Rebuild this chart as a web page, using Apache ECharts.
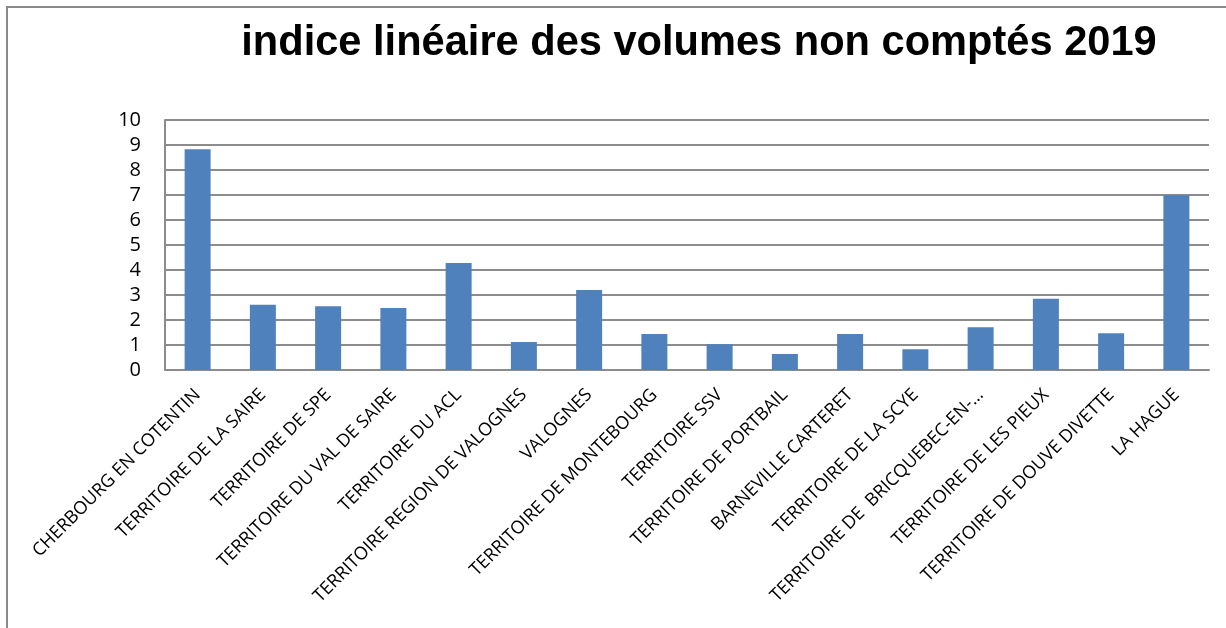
<!DOCTYPE html>
<html lang="fr">
<head>
  <meta charset="UTF-8" />
  <title>indice linéaire des volumes non comptés 2019</title>
  <script src="https://cdn.jsdelivr.net/npm/echarts@6/dist/echarts.min.js"></script>
  <style>
    html, body { margin: 0; padding: 0; background: #fff; }
    #wrap { position: relative; width: 1226px; height: 628px; overflow: hidden; }
    #frame { position: absolute; left: 6px; top: 6px; width: 1300px; height: 700px;
             border-left: 2px solid #8a8a8a; border-top: 2px solid #8a8a8a; }
    #main { position: absolute; left: 0; top: 0; width: 1226px; height: 628px; }
  </style>
</head>
<body>
  <div id="wrap">
    <div id="frame"></div>
    <div id="main"></div>
  </div>
<script>
  // categories (x axis)
  var territoires = [
    "CHERBOURG EN COTENTIN",
    "TERRITOIRE DE LA SAIRE",
    "TERRITOIRE DE SPE",
    "TERRITOIRE DU VAL DE SAIRE",
    "TERRITOIRE DU ACL",
    "TERRITOIRE REGION DE VALOGNES",
    "VALOGNES",
    "TERRITOIRE DE MONTEBOURG",
    "TERRITOIRE SSV",
    "TERRITOIRE DE PORTBAIL",
    "BARNEVILLE CARTERET",
    "TERRITOIRE DE LA SCYE",
    "TERRITOIRE DE  BRICQUEBEC-EN-…",
    "TERRITOIRE DE LES PIEUX",
    "TERRITOIRE DE DOUVE DIVETTE",
    "LA HAGUE"
  ];
  // indice linéaire des volumes non comptés
  var indices = [8.83, 2.61, 2.55, 2.48, 4.28, 1.12, 3.2, 1.44, 1.03, 0.64, 1.44, 0.83, 1.71, 2.85, 1.47, 6.99];
  var yTicks = [0, 1, 2, 3, 4, 5, 6, 7, 8, 9, 10];

  var chart = echarts.init(document.getElementById("main"), null, { renderer: "canvas" });

  var option = {
    backgroundColor: "transparent",
    animation: false,
    title: {
      text: "indice linéaire des volumes non comptés 2019",
      left: 694,
      top: 18,
      textAlign: "center",
      textStyle: {
        fontFamily: "Liberation Sans",
        fontWeight: "bold",
        fontSize: 41.6,
        color: "#000"
      }
    },
    grid: { left: 165, right: 17, top: 120, bottom: 258 },
    xAxis: {
      type: "category",
      data: territoires,
      axisLine: { lineStyle: { color: "#8c8c8c", width: 2 } },
      axisTick: { show: false },
      axisLabel: {
        interval: 0,
        rotate: 45,
        margin: 22,
        color: "#000",
        fontFamily: "Open Sans",
        fontSize: 18
      }
    },
    yAxis: {
      type: "value",
      min: yTicks[0],
      max: yTicks[yTicks.length - 1],
      interval: 1,
      axisLine: { show: true, lineStyle: { color: "#8c8c8c", width: 2 } },
      axisTick: { show: false },
      splitLine: { lineStyle: { color: "#8c8c8c", width: 2 } },
      axisLabel: {
        margin: 24,
        color: "#000",
        fontFamily: "Open Sans",
        fontSize: 20
      }
    },
    series: [{
      type: "bar",
      data: indices,
      barWidth: 26,
      itemStyle: { color: "#4f81bd" }
    }]
  };

  chart.setOption(option);
</script>
</body>
</html>
